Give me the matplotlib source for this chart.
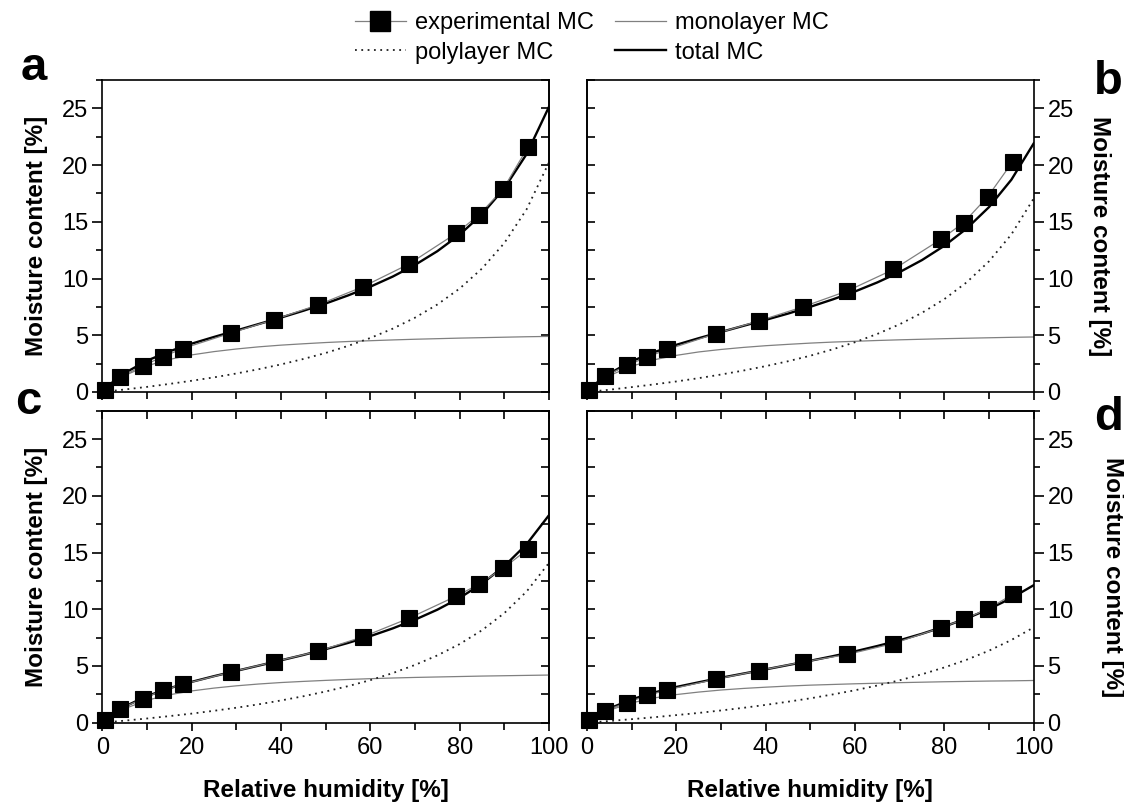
import matplotlib
matplotlib.use("Agg")
import matplotlib.pyplot as plt
from matplotlib.ticker import MultipleLocator
from matplotlib.lines import Line2D

plt.rcParams['font.family'] = ['Liberation Sans', 'DejaVu Sans']

# -----------------------------
# data
# -----------------------------
rh_exp = [0.5, 4, 9, 13.5, 18, 28.9, 38.5, 48.3, 58.3, 68.6, 79.2, 84.3, 89.7, 95.3]

exp_a = [0.15, 1.32, 2.3, 3.1, 3.83, 5.21, 6.39, 7.68, 9.27, 11.27, 13.98, 15.6, 17.86, 21.6]
exp_b = [0.2, 1.39, 2.36, 3.09, 3.75, 5.15, 6.27, 7.5, 8.91, 10.8, 13.45, 14.92, 17.21, 20.3]
exp_c = [0.2, 1.23, 2.1, 2.85, 3.38, 4.47, 5.37, 6.3, 7.56, 9.2, 11.15, 12.2, 13.6, 15.3]
exp_d = [0.2, 1.05, 1.78, 2.4, 2.9, 3.84, 4.59, 5.35, 6.02, 6.98, 8.37, 9.1, 10.03, 11.3]

rh_fit = [0, 2.5, 5, 10, 15, 20, 25, 30, 35, 40, 45, 50, 55, 60, 65, 70, 75, 80, 85, 90, 95, 100]

mono_a = [0, 0.83, 1.45, 2.31, 2.87, 3.27, 3.56, 3.79, 3.98, 4.13, 4.25, 4.36, 4.45, 4.52,
          4.59, 4.65, 4.70, 4.75, 4.79, 4.83, 4.87, 4.90]
poly_a = [0, 0.11, 0.22, 0.45, 0.71, 0.99, 1.29, 1.63, 2.01, 2.43, 2.91, 3.44, 4.06, 4.76,
          5.58, 6.55, 7.71, 9.12, 10.88, 13.13, 16.11, 20.24]
total_a = [0, 0.94, 1.67, 2.76, 3.58, 4.26, 4.85, 5.42, 5.99, 6.56, 7.16, 7.80, 8.51, 9.28,
           10.17, 11.20, 12.41, 13.87, 15.67, 17.96, 20.98, 25.14]

mono_b = [0, 0.82, 1.44, 2.28, 2.84, 3.23, 3.53, 3.75, 3.93, 4.08, 4.20, 4.31, 4.40, 4.47,
          4.54, 4.60, 4.65, 4.70, 4.74, 4.78, 4.82, 4.85]
poly_b = [0, 0.10, 0.20, 0.43, 0.67, 0.93, 1.22, 1.54, 1.89, 2.28, 2.71, 3.20, 3.76, 4.39,
          5.12, 5.97, 6.98, 8.19, 9.67, 11.52, 13.89, 17.06]
total_b = [0, 0.92, 1.63, 2.71, 3.51, 4.16, 4.74, 5.29, 5.83, 6.36, 6.91, 7.51, 8.16, 8.86,
           9.66, 10.57, 11.63, 12.89, 14.41, 16.30, 18.71, 21.91]

mono_c = [0, 0.71, 1.24, 1.98, 2.46, 2.80, 3.05, 3.25, 3.41, 3.54, 3.64, 3.73, 3.81, 3.88,
          3.94, 3.99, 4.03, 4.07, 4.11, 4.14, 4.17, 4.20]
poly_c = [0, 0.09, 0.18, 0.37, 0.58, 0.80, 1.05, 1.32, 1.62, 1.96, 2.33, 2.75, 3.22, 3.75,
          4.37, 5.09, 5.93, 6.93, 8.15, 9.66, 11.57, 14.09]
total_c = [0, 0.80, 1.42, 2.35, 3.04, 3.60, 4.10, 4.57, 5.03, 5.50, 5.97, 6.48, 7.03, 7.63,
           8.31, 9.08, 9.96, 11.00, 12.26, 13.80, 15.74, 18.29]

mono_d = [0, 0.63, 1.10, 1.75, 2.18, 2.48, 2.70, 2.88, 3.02, 3.13, 3.23, 3.31, 3.37, 3.43,
          3.48, 3.53, 3.57, 3.61, 3.64, 3.67, 3.69, 3.72]
poly_d = [0, 0.07, 0.15, 0.31, 0.48, 0.67, 0.86, 1.08, 1.31, 1.57, 1.85, 2.15, 2.49, 2.86,
          3.28, 3.74, 4.27, 4.87, 5.55, 6.35, 7.29, 8.40]
total_d = [0, 0.70, 1.25, 2.06, 2.66, 3.15, 3.56, 3.96, 4.33, 4.70, 5.08, 5.46, 5.86, 6.29,
           6.76, 7.27, 7.84, 8.48, 9.19, 10.02, 10.98, 12.12]

panel_letters = ['a', 'b', 'c', 'd']
legend_labels = ['experimental MC', 'polylayer MC', 'monolayer MC', 'total MC']

# -----------------------------
# figure / layout (pixel based)
# -----------------------------
W, H = 1124, 802
fig = plt.figure(figsize=(W / 100, H / 100), dpi=100)


def fx(px):
    return px / W


def fy(py):
    return 1 - py / H


col_x = [102.3, 587.0]
col_w = 446.7
row_top = [80.0, 410.7]
row_h = 312.0

panels = [
    (exp_a, mono_a, poly_a, total_a),
    (exp_b, mono_b, poly_b, total_b),
    (exp_c, mono_c, poly_c, total_c),
    (exp_d, mono_d, poly_d, total_d),
]

GREY = '#808080'
for i, (exp, mono, poly, total) in enumerate(panels):
    row, col = divmod(i, 2)
    ax = fig.add_axes([fx(col_x[col]), fy(row_top[row] + row_h), col_w / W, row_h / H])

    ax.plot(rh_fit, mono, color=GREY, lw=0.9, zorder=2)
    ax.plot(rh_fit, poly, color='#202020', lw=1.3, ls=(0, (1, 2.5)), zorder=2)
    ax.plot(rh_fit, total, color='black', lw=1.7, zorder=3)
    ax.plot(rh_exp, exp, color=GREY, lw=0.9, marker='s', ms=11, mfc='black', mec='black',
            mew=0.8, zorder=4, clip_on=False)

    ax.set_xlim(0, 100)
    ax.set_ylim(0, 27.5)
    for s in ax.spines.values():
        s.set_linewidth(1.2)

    ax.xaxis.set_major_locator(MultipleLocator(20))
    ax.xaxis.set_minor_locator(MultipleLocator(10))
    ax.yaxis.set_major_locator(MultipleLocator(5))
    ax.yaxis.set_minor_locator(MultipleLocator(2.5))

    ax.tick_params(axis='x', which='both', direction='out', top=False, width=1.2,
                   labelsize=17, pad=4, labelbottom=(row == 1))
    ax.tick_params(axis='x', which='major', length=6)
    ax.tick_params(axis='x', which='minor', length=5)
    ax.tick_params(axis='y', which='both', direction='out', width=1.2, labelsize=17, pad=3)
    ax.tick_params(axis='y', which='major', length=7)
    ax.tick_params(axis='y', which='minor', length=4)

    other = 'right' if col == 0 else 'left'
    if col == 1:
        ax.yaxis.tick_right()
    sec = ax.secondary_yaxis(other)
    sec.yaxis.set_major_locator(MultipleLocator(5))
    sec.yaxis.set_minor_locator(MultipleLocator(2.5))
    sec.tick_params(axis='y', which='both', direction='in', length=6, width=1.2,
                    labelleft=False, labelright=False)
    sec.spines[other].set_linewidth(1.2)

    if row == 1:
        sect = ax.secondary_xaxis('top')
        sect.xaxis.set_major_locator(MultipleLocator(20))
        sect.xaxis.set_minor_locator(MultipleLocator(10))
        sect.tick_params(axis='x', which='both', direction='in', length=6, width=1.2,
                         labeltop=False)
        sect.spines['top'].set_linewidth(1.2)
        ax.set_xlabel('Relative humidity [%]', fontsize=17.5, fontweight='bold')
        ax.xaxis.set_label_coords(0.5, -0.18)

    # y label
    yc = row_top[row] + row_h / 2
    if col == 0:
        fig.text(fx(43), fy(yc), 'Moisture content [%]', rotation=90, rotation_mode='anchor',
                 ha='center', va='baseline', fontsize=17.5, fontweight='bold')
    else:
        fig.text(fx(1093 + 13 * row), fy(yc + 10 * row), 'Moisture content [%]', rotation=270,
                 rotation_mode='anchor', ha='center', va='baseline', fontsize=17.5,
                 fontweight='bold')

# panel letters
letter_pos = [(34, 80), (1108, 94), (28, 414), (1109, 430)]
for letter, (px, py) in zip(panel_letters, letter_pos):
    fig.text(fx(px), fy(py), letter, fontsize=34, fontweight='bold', ha='center', va='baseline')

# legend
handles = [
    Line2D([], [], color=GREY, lw=0.9, marker='s', ms=14, mfc='black', mec='black'),
    Line2D([], [], color='#202020', lw=1.3, ls=(0, (1, 2.5))),
    Line2D([], [], color=GREY, lw=0.9),
    Line2D([], [], color='black', lw=1.7),
]
fig.legend(handles, legend_labels, ncol=2, loc='center', bbox_to_anchor=(fx(592), fy(38)),
           frameon=False, fontsize=17, handlelength=2.15, handletextpad=0.4,
           columnspacing=0.9, labelspacing=0.3, borderpad=0, borderaxespad=0, numpoints=1)

fig.savefig('out.png', dpi=100)
